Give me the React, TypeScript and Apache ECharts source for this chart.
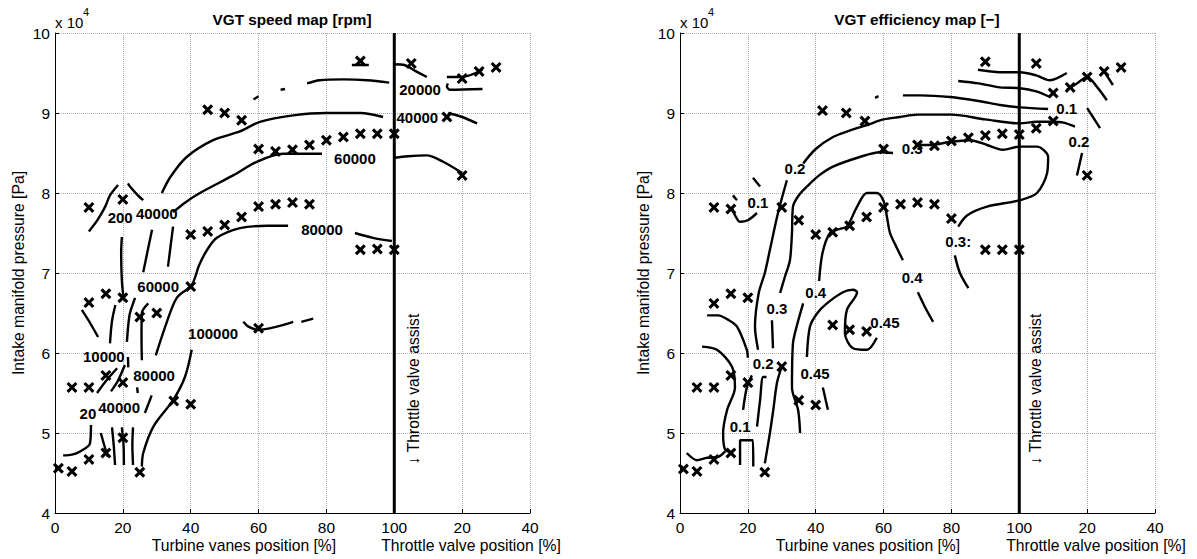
import React, { useEffect, useRef } from "react";
import * as echarts from "echarts";

// ---------- axes ----------
const xTickValues = [0, 20, 40, 60, 80, 100, 120, 140];
const xTickLabels = ["0", "20", "40", "60", "80", "100", "20", "40"];
const yTickValues = [4, 5, 6, 7, 8, 9, 10]; // x 10^4 Pa
const throttleLine = [[100, 4], [100, 10]];

// ---------- VGT speed map (left) ----------
const speedPoints: number[][] = [
  [10, 7.82], [20, 7.92], [45, 9.04], [50, 9.0], [55, 8.91], [60, 8.55], [65, 8.52], [70, 8.54],
  [75, 8.6], [80, 8.66], [85, 8.7], [90, 8.74], [95, 8.74], [100, 8.74], [90, 9.65],
  [40, 7.48], [45, 7.52], [50, 7.6], [55, 7.7], [60, 7.83], [65, 7.86], [70, 7.88], [75, 7.86],
  [90, 7.29], [95, 7.3], [100, 7.29],
  [105, 9.62], [120, 9.43], [125, 9.52], [130, 9.57], [115.5, 8.95], [120, 8.22],
  [10, 6.63], [15, 6.74], [20, 6.69], [25, 6.45], [30, 6.5], [40, 6.83], [60, 6.31],
  [5, 5.57], [10, 5.57], [15, 5.72], [20, 5.63], [35, 5.4], [40, 5.36],
  [1, 4.56], [5, 4.52], [10, 4.67], [15, 4.75], [20, 4.94], [25, 4.51],
];

const speedContours: number[][][] = [
  [[74.3, 9.37], [78, 9.41], [85, 9.42], [92, 9.41], [98.5, 9.38]],
  [[87.5, 9.6], [92.5, 9.6]],
  [[58.5, 9.17], [60, 9.21]],
  [[66.5, 9.29], [67.8, 9.3]],
  [[100, 9.61], [103, 9.6], [106, 9.53], [109.6, 9.45]],
  [[115.5, 9.45], [120, 9.45], [126, 9.54]],
  [[115.8, 9.37], [115.5, 9.33], [116.5, 9.29], [126, 9.3]],
  [[31.5, 8.0], [34, 8.2], [38.8, 8.45], [46.6, 8.66], [54.5, 8.77], [60.4, 8.89], [70.2, 8.97], [80, 9.0], [90, 9.0], [96.7, 8.95]],
  [[115.9, 9.0], [120, 8.95], [124.4, 8.87]],
  [[34.8, 7.76], [38, 7.87], [42.7, 8.0], [52.5, 8.22], [59.5, 8.39], [67.2, 8.49], [78.7, 8.49]],
  [[100, 8.44], [104, 8.46], [109.6, 8.47], [114.4, 8.39], [120, 8.25]],
  [[29.7, 5.97], [32.9, 6.38], [35.9, 6.69], [40.3, 6.85], [42.5, 7.1], [45, 7.3], [47.7, 7.44], [54.5, 7.56], [62.5, 7.59], [68.7, 7.59]],
  [[88.4, 7.5], [93.7, 7.44], [99.3, 7.4]],
  [[40.3, 6.04], [38.3, 5.7], [34.8, 5.41], [29, 5.08], [26, 4.75], [25.6, 4.58]],
  [[55.5, 6.39], [57, 6.33], [60, 6.29], [65.4, 6.33], [70.2, 6.39]],
  [[72.6, 6.39], [76.1, 6.43]],
  [[10, 7.52], [12.5, 7.66], [14.8, 7.83], [16.2, 7.97], [18.6, 8.1]],
  [[21.5, 8.12], [22.1, 8.08], [24, 7.99], [26, 7.91]],
  [[19.7, 7.45], [19.5, 7.25], [19.7, 6.91], [20.1, 6.72]],
  [[17.8, 6.6], [16.8, 6.4], [16.2, 6.12]],
  [[28.6, 7.54], [26, 7.01]],
  [[34.8, 7.58], [33.3, 7.08]],
  [[7.9, 6.54], [10, 6.4], [12.7, 6.2]],
  [[21.2, 6.14], [21.6, 6.35], [22.1, 6.5], [23.6, 6.69]],
  [[25.6, 5.91], [25.5, 6.2], [25.6, 6.5], [27.5, 6.62]],
  [[21.5, 5.95], [21.6, 5.82]],
  [[12.4, 5.5], [15, 5.65], [18.3, 5.81]],
  [[16.5, 5.52], [18.5, 5.65], [20.6, 5.85]],
  [[24.2, 5.57], [24.4, 5.5]],
  [[26.5, 5.25], [28.5, 5.47]],
  [[2.4, 4.72], [5, 4.73], [7.4, 4.77], [10.3, 4.87], [10.6, 5.1]],
  [[13.5, 5.0], [14.5, 4.85], [15.6, 4.7]],
  [[16.8, 5.07], [17.3, 4.85], [17.7, 4.6]],
  [[19.7, 5.07], [20.2, 4.85], [20.3, 4.6]],
  [[23, 5.07], [22.8, 4.85], [23, 4.6]],
];

const speedLabels: [number, number, string][] = [
  [107.6, 9.29, "20000"],
  [106.8, 8.95, "40000"],
  [88.4, 8.43, "60000"],
  [78.7, 7.54, "80000"],
  [19.2, 7.7, "200"],
  [30, 7.75, "40000"],
  [30.4, 6.83, "60000"],
  [46.6, 6.25, "100000"],
  [14.4, 5.96, "10000"],
  [29.2, 5.72, "80000"],
  [18.9, 5.32, "40000"],
  [9.7, 5.25, "20"],
];

// ---------- VGT efficiency map (right) ----------
const effPoints: number[][] = [
  [10, 7.82], [15, 7.8], [30, 7.82], [35, 7.66], [40, 7.48], [45, 7.51], [50, 7.59], [55, 7.7],
  [60, 7.82], [65, 7.86], [70, 7.88], [75, 7.86], [80, 7.68],
  [42, 9.03], [49, 9.0], [54.5, 8.9], [60, 8.55], [70, 8.6], [75, 8.59], [80, 8.65], [85, 8.69],
  [90, 8.72], [95, 8.74], [100, 8.73], [105, 8.81], [110, 8.9],
  [90, 9.64], [105, 9.62], [110, 9.25], [115, 9.32], [120, 9.45], [125, 9.52], [130, 9.57], [120, 8.22],
  [90, 7.29], [95, 7.29], [100, 7.29],
  [10, 6.62], [15, 6.74], [20, 6.69], [30, 5.83], [5, 5.57], [10, 5.57], [15, 5.72], [20, 5.63],
  [35, 5.41], [40, 5.35], [45, 6.35], [50, 6.29], [55, 6.27],
  [1, 4.55], [5, 4.52], [10, 4.67], [15, 4.75], [25, 4.51],
];

const effContours: number[][][] = [
  [[87.8, 9.54], [94.3, 9.51], [100.2, 9.51], [105, 9.47], [109, 9.41], [114, 9.5]],
  [[82, 9.4], [88, 9.37], [94.3, 9.32], [100.2, 9.31], [105, 9.27], [109, 9.2]],
  [[65.7, 9.22], [70.7, 9.22], [79.6, 9.2], [88, 9.15], [94.3, 9.1], [100.2, 9.07], [108.5, 9.05]],
  [[57.5, 9.19], [58.5, 9.21]],
  [[36.3, 8.37], [40, 8.55], [45.1, 8.7], [50, 8.78], [55.1, 8.85], [60, 8.92], [64.8, 8.95], [70, 8.98], [80, 8.98], [90, 8.92], [100.2, 8.87], [105, 8.89], [109.6, 8.89], [113, 8.88], [116.4, 8.83]],
  [[31.5, 8.16], [29.8, 7.9], [28.6, 7.7], [26.5, 7.29], [25, 7.0], [23.2, 6.75], [22.1, 6.33], [23, 6.04]],
  [[29.5, 6.75], [30.9, 6.95], [32.4, 7.16], [33, 7.5], [33.3, 7.83], [35, 7.97], [37.4, 8.08], [41, 8.22], [45.1, 8.33], [53, 8.45], [58.9, 8.51], [62.8, 8.5]],
  [[70.7, 8.6], [74, 8.6], [79.6, 8.64], [85.5, 8.66], [90.5, 8.6], [95.2, 8.54], [100.2, 8.58], [105.2, 8.58], [108.5, 8.45], [108.2, 8.25], [105.2, 8.0], [100.2, 7.91], [90.5, 7.83], [84.6, 7.72], [82, 7.58]],
  [[81, 7.22], [82.5, 7.0], [85, 6.81]],
  [[41, 6.9], [42, 7.25], [44.2, 7.5], [47, 7.55], [49.2, 7.58], [52.2, 7.83], [55.1, 8.0], [58, 8.0], [60, 7.9], [61, 7.7], [61.9, 7.5], [63.5, 7.35], [65.7, 7.16]],
  [[70.1, 6.76], [72.5, 6.55], [74.6, 6.39]],
  [[36.3, 6.62], [34.5, 6.35], [33.3, 6.12], [33, 5.57], [34.8, 5.29], [35.4, 5.0]],
  [[37.4, 5.95], [38.3, 6.33], [40.5, 6.5], [43.3, 6.62], [48, 6.76], [51, 6.79], [52.2, 6.76], [49.2, 6.54], [48.6, 6.25], [51, 6.06], [55.1, 6.04], [58, 6.19]],
  [[42.1, 5.57], [43, 5.4], [43.6, 5.29]],
  [[8, 6.47], [11.2, 6.47], [14, 6.42], [16.8, 6.33], [19.7, 6.04], [20, 5.94]],
  [[6.5, 6.08], [10.9, 6.04], [15.3, 5.83], [16.2, 5.57], [13.9, 5.29], [12.7, 5.0], [13.3, 4.79], [15.3, 4.76]],
  [[2, 4.75], [5, 4.66], [8, 4.69], [11.2, 4.7], [13.3, 4.77]],
  [[18.6, 5.29], [19.7, 5.57], [21.2, 5.72]],
  [[22.7, 5.08], [23.6, 5.41], [24.5, 5.7], [25.5, 5.7]],
  [[17.7, 4.6], [17.7, 4.91], [21.5, 4.91], [21.6, 4.58]],
  [[25, 4.62], [26.5, 5.0], [27.5, 5.29], [28.6, 5.63], [30, 5.83]],
  [[27.4, 6.06], [27.1, 6.41]],
  [[15.3, 7.81], [16.5, 7.7], [17.7, 7.64], [20, 7.66], [22.7, 7.75]],
  [[15.6, 7.97], [16.8, 7.91]],
  [[21.5, 8.19], [23.6, 8.08]],
  [[120, 9.06], [121.7, 8.95], [123.8, 8.81]],
  [[117, 8.22], [118.5, 8.5]],
  [[114, 9.29], [117, 9.37], [120, 9.45], [123, 9.32], [125.8, 9.16]],
  [[125, 9.52], [127.6, 9.35]],
];

const effLabels: [number, number, string][] = [
  [114, 9.06, "0.1"],
  [117.6, 8.64, "0.2"],
  [68.4, 8.56, "0.3"],
  [33.9, 8.31, "0.2"],
  [23, 7.88, "0.1"],
  [82, 7.39, "0.3:"],
  [68.4, 6.94, "0.4"],
  [40, 6.76, "0.4"],
  [28.6, 6.56, "0.3"],
  [60.4, 6.38, "0.45"],
  [24.5, 5.87, "0.2"],
  [39.8, 5.75, "0.45"],
  [17.7, 5.08, "0.1"],
];

const FONT = "Liberation Sans, Arial, sans-serif";
const CROSS = "path://M0,2 L2,0 L5,3 L8,0 L10,2 L7,5 L10,8 L8,10 L5,7 L2,10 L0,8 L3,5 Z";

function makeAxes(gridIndex: number) {
  const x = {
    type: "value",
    gridIndex,
    min: 0,
    max: 140,
    interval: 20,
    axisLine: { show: true, lineStyle: { color: "#000", width: 1 } },
    axisTick: { show: true, inside: true, length: 4, lineStyle: { color: "#000" } },
    axisLabel: {
      color: "#000",
      fontSize: 15.5,
      fontFamily: FONT,
      margin: 6,
      showMinLabel: true,
      showMaxLabel: true,
      formatter: (v: number) => {
        const i = xTickValues.indexOf(v);
        return i >= 0 ? xTickLabels[i] : "";
      },
    },
    splitLine: { show: true, lineStyle: { color: "#aaa", type: "dotted", width: 1 } },
  };
  const y = {
    type: "value",
    gridIndex,
    min: yTickValues[0],
    max: yTickValues[yTickValues.length - 1],
    interval: 1,
    axisLine: { show: true, lineStyle: { color: "#000", width: 1 } },
    axisTick: { show: true, inside: true, length: 4, lineStyle: { color: "#000" } },
    axisLabel: { color: "#000", fontSize: 15.5, fontFamily: FONT, margin: 5, showMinLabel: true, showMaxLabel: true },
    splitLine: { show: true, lineStyle: { color: "#aaa", type: "dotted", width: 1 } },
  };
  return { x, y };
}

function makeSeries(idx: number, contours: number[][][], points: number[][], labels: [number, number, string][]) {
  const s: any[] = [];
  contours.forEach((seg) => {
    s.push({
      type: "line",
      xAxisIndex: idx,
      yAxisIndex: idx,
      data: seg,
      symbol: "none",
      smooth: 0.3,
      silent: true,
      lineStyle: { color: "#000", width: 2.4 },
      z: 3,
    });
  });
  s.push({
    type: "line",
    xAxisIndex: idx,
    yAxisIndex: idx,
    data: throttleLine,
    symbol: "none",
    silent: true,
    lineStyle: { color: "#000", width: 3 },
    z: 4,
  });
  s.push({
    type: "scatter",
    xAxisIndex: idx,
    yAxisIndex: idx,
    data: points,
    symbol: CROSS,
    symbolSize: 11,
    itemStyle: { color: "#000", opacity: 1 },
    silent: true,
    z: 5,
  });
  s.push({
    type: "scatter",
    xAxisIndex: idx,
    yAxisIndex: idx,
    data: labels.map((l) => ({ name: l[2], value: [l[0], l[1]] })),
    symbolSize: 1,
    itemStyle: { color: "rgba(0,0,0,0)", opacity: 1 },
    silent: true,
    z: 6,
    label: {
      show: true,
      position: "inside",
      formatter: "{b}",
      color: "#000",
      opacity: 1,
      fontSize: 15,
      fontWeight: "bold",
      fontFamily: FONT,
    },
  });
  return s;
}

function txt(x: number, y: number, text: string, size: number, opts: any = {}) {
  return {
    type: "text",
    x,
    y,
    rotation: opts.rotation || 0,
    z: 10,
    style: {
      text,
      fill: "#000",
      font: `${opts.bold ? "bold " : ""}${size}px ${FONT}`,
      textAlign: opts.align || "center",
      textVerticalAlign: "middle",
      align: opts.align || "center",
      verticalAlign: "middle",
    },
  };
}

export default function App() {
  const ref = useRef<HTMLDivElement>(null);
  useEffect(() => {
    document.body.style.margin = "0";
    if (!ref.current) return;
    const chart = echarts.init(ref.current, undefined, { renderer: "svg" });
    const a0 = makeAxes(0);
    const a1 = makeAxes(1);
    const option: any = {
      animation: false,
      backgroundColor: "#fff",
      grid: [
        { left: 55, top: 33, width: 475, height: 480 },
        { left: 680, top: 33, width: 475, height: 480 },
      ],
      xAxis: [a0.x, a1.x],
      yAxis: [a0.y, a1.y],
      series: [
        ...makeSeries(0, speedContours, speedPoints, speedLabels),
        ...makeSeries(1, effContours, effPoints, effLabels),
      ],
      graphic: [
        txt(292, 19, "VGT speed map [rpm]", 15.3, { bold: true }),
        txt(917, 19, "VGT efficiency map [\u2212]", 15.3, { bold: true }),
        txt(55, 22, "x 10", 15, { align: "left" }),
        txt(83, 12, "4", 11, { align: "left" }),
        txt(680, 22, "x 10", 15, { align: "left" }),
        txt(708, 12, "4", 11, { align: "left" }),
        txt(18, 273, "Intake manifold pressure [Pa]", 15.7, { rotation: Math.PI / 2 }),
        txt(643, 273, "Intake manifold pressure [Pa]", 15.7, { rotation: Math.PI / 2 }),
        txt(244, 545, "Turbine vanes position [%]", 15.7),
        txt(471, 545, "Throttle valve position [%]", 15.7),
        txt(868, 545, "Turbine vanes position [%]", 15.7),
        txt(1096, 545, "Throttle valve position [%]", 15.7),
        txt(413, 389, "\u2193 Throttle valve assist", 15.7, { rotation: Math.PI / 2 }),
        txt(1035, 389, "\u2193 Throttle valve assist", 15.7, { rotation: Math.PI / 2 }),
      ],
    };
    chart.setOption(option);
    return () => chart.dispose();
  }, []);
  return <div ref={ref} style={{ width: 1197, height: 559 }} />;
}
